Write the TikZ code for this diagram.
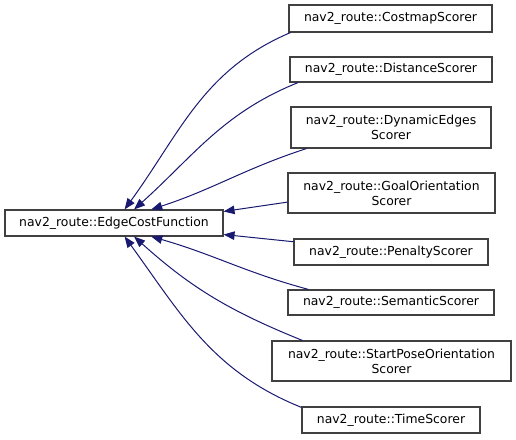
\documentclass[tikz,border=0pt]{standalone}
\usepackage{fontspec}
\setmainfont{DejaVu Sans}
\usetikzlibrary{arrows.meta}
\definecolor{edge_blue}{RGB}{25,25,112}
\definecolor{box_gray}{RGB}{64,64,64}

\begin{document}
\begin{tikzpicture}[x=1pt, y=1pt,
    cls/.style={draw=box_gray, line width=1.1pt, inner sep=0pt, align=center,
        font=\fontsize{12.4}{15}\selectfont},
    inh/.style={edge_blue, line width=1pt, -{Triangle[length=11pt, width=8.5pt]}}]
    \useasboundingbox (0,0) rectangle (516,439);

    \node[cls, minimum width=218pt, minimum height=26pt] (ecf) at (114,216) {nav2\_route::EdgeCostFunction};

    \node[cls, minimum width=203pt, minimum height=27pt] (cost) at (390.5,420.5) {nav2\_route::CostmapScorer};
    \node[cls, minimum width=202pt, minimum height=25pt] (dist) at (391,369.5) {nav2\_route::DistanceScorer};
    \node[cls, minimum width=200pt, minimum height=41pt] (dyn) at (391,311.5) {nav2\_route::DynamicEdges\\Scorer};
    \node[cls, minimum width=207pt, minimum height=40pt] (goal) at (391.5,246) {nav2\_route::GoalOrientation\\Scorer};
    \node[cls, minimum width=194pt, minimum height=26pt] (pen) at (391,187) {nav2\_route::PenaltyScorer};
    \node[cls, minimum width=206pt, minimum height=25pt] (sem) at (391,136.5) {nav2\_route::SemanticScorer};
    \node[cls, minimum width=239pt, minimum height=40pt] (spo) at (391.5,78) {nav2\_route::StartPoseOrientation\\Scorer};
    \node[cls, minimum width=178pt, minimum height=26pt] (time) at (391,19) {nav2\_route::TimeScorer};

    % inheritance edges
    \draw[inh] (cost.188) to[out=203, in=54] (ecf.52);
    \draw[inh] (dist.188) to[out=202, in=42] (ecf.34);
    \draw[inh] (dyn.194) to[out=198, in=18] (ecf.20);
    \draw[inh] (goal.185) -- (ecf.6);
    \draw[inh] (pen.174) -- (ecf.-6);
    \draw[inh] (sem.171) to[out=165, in=-16] (ecf.-20);
    \draw[inh] (spo.167) to[out=158, in=-42] (ecf.-34);
    \draw[inh] (time.172) to[out=158, in=-54] (ecf.-52);

\end{tikzpicture}
\end{document}
